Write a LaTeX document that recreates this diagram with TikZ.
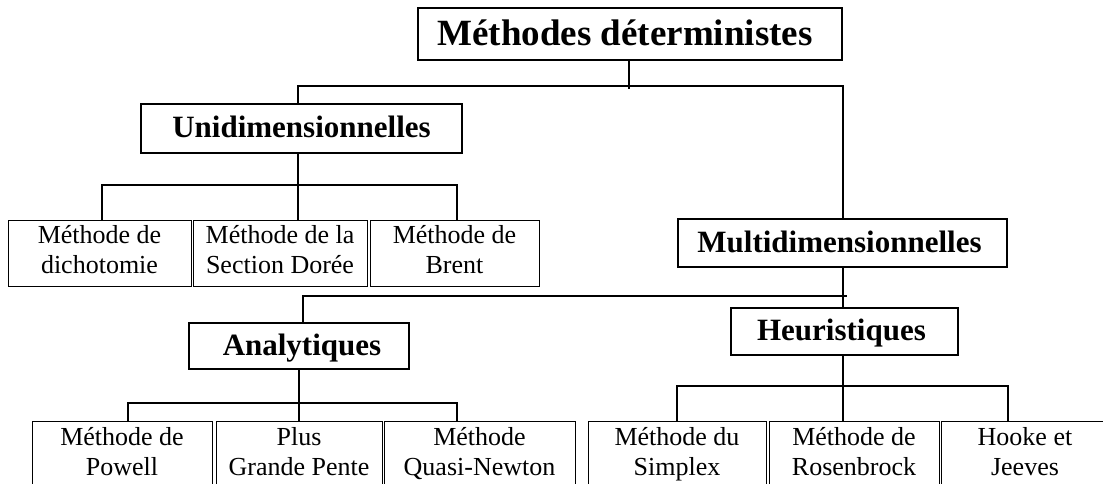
\documentclass[tikz,border=0pt]{standalone}
\usepackage{fontspec}
\setmainfont{Liberation Serif}
\newcommand\lfone[2]{\rule{0pt}{23.5pt}#1\\#2\rule[-12.5pt]{0pt}{12.5pt}}
\newcommand\lftwo[2]{\rule{0pt}{24pt}#1\\#2\rule[-16pt]{0pt}{16pt}}
\begin{document}
\begin{tikzpicture}[x=1pt,y=-1pt,
  titlebox/.style={draw,line width=1.8pt,inner sep=0pt,text height=29pt,text depth=5pt,font=\fontsize{37}{42}\selectfont\bfseries},
  headbox/.style={draw,line width=1.8pt,inner sep=0pt,text height=23pt,text depth=5pt,font=\fontsize{31}{36}\selectfont\bfseries},
  leafbox/.style={draw,line width=0.9pt,inner sep=0pt,anchor=north,align=center,font=\fontsize{26}{30}\selectfont},
  leafone/.style={leafbox,minimum height=66pt},
  leaftwo/.style={leafbox,minimum height=70pt},
  conn/.style={line width=1.7pt}]
\clip (0,0) rectangle (1103,484);
% boxes
\node[titlebox,minimum width=424pt,minimum height=52pt] (top) at (630,34) {\hspace{-10pt}Méthodes déterministes};
\node[headbox,minimum width=321pt,minimum height=49pt] (uni) at (301.5,128.5) {Unidimensionnelles};
\node[headbox,minimum width=329pt,minimum height=48pt] (multi) at (842.5,243) {\hspace{-6pt}Multidimensionnelles};
\node[headbox,minimum width=220pt,minimum height=46pt] (ana) at (299,346) {\hspace{6pt}Analytiques};
\node[headbox,minimum width=227pt,minimum height=47pt] (heu) at (844.5,331.5) {\hspace{-6pt}Heuristiques};
% row 1 leaves
\node[leafone,minimum width=183pt] (d1) at (99.5,220) {\lfone{Méthode de}{dichotomie}};
\node[leafone,minimum width=174pt] (d2) at (280,220) {\lfone{Méthode de la}{Section Dorée}};
\node[leafone,minimum width=169pt] (d3) at (454.5,220) {\lfone{Méthode de}{Brent}};
% row 2 leaves
\node[leaftwo,minimum width=180pt] (p1) at (122,421) {\lftwo{Méthode de}{Powell}};
\node[leaftwo,minimum width=166pt] (p2) at (299,421) {\lftwo{Plus}{Grande Pente}};
\node[leaftwo,minimum width=191pt] (p3) at (479.5,421) {\lftwo{Méthode}{Quasi-Newton}};
\node[leaftwo,minimum width=178pt] (h1) at (677,421) {\lftwo{Méthode du}{Simplex}};
\node[leaftwo,minimum width=170pt] (h2) at (854,421) {\lftwo{Méthode de}{Rosenbrock}};
\node[leaftwo,minimum width=168pt] (h3) at (1025,421) {\lftwo{Hooke et}{Jeeves}};
% junctions
\coordinate (j0) at (629,89);
\coordinate (j1) at (298,86);
\coordinate (j2) at (843,86);
\coordinate (k0) at (298,185);
\coordinate (kl) at (102,185);
\coordinate (kr) at (457,185);
\coordinate (m1) at (303,296);
\coordinate (m2) at (847,296);
\coordinate (a0) at (299,403);
\coordinate (al) at (128,403);
\coordinate (ar) at (457,403);
\coordinate (h0) at (843,386);
\coordinate (hl) at (677,386);
\coordinate (hr) at (1008,386);
% connectors
\draw[conn] (j0 |- top.south) -- (j0);
\draw[conn] (j1 |- uni.north) -- (j1) -- (j2) -- (j2 |- multi.north);
\draw[conn] (k0 |- uni.south) -- (k0);
\draw[conn] (kl |- d1.north) -- (kl) -- (kr) -- (kr |- d3.north);
\draw[conn] (k0) -- (k0 |- d2.north);
\draw[conn] (j2 |- multi.south) -- (j2 |- heu.north);
\draw[conn] (m1 |- ana.north) -- (m1) -- (m2);
\draw[conn] (a0 |- ana.south) -- (a0);
\draw[conn] (al |- p1.north) -- (al) -- (ar) -- (ar |- p3.north);
\draw[conn] (a0) -- (a0 |- p2.north);
\draw[conn] (h0 |- heu.south) -- (h0);
\draw[conn] (hl |- h1.north) -- (hl) -- (hr) -- (hr |- h3.north);
\draw[conn] (h0) -- (h0 |- h2.north);
\end{tikzpicture}
\end{document}
